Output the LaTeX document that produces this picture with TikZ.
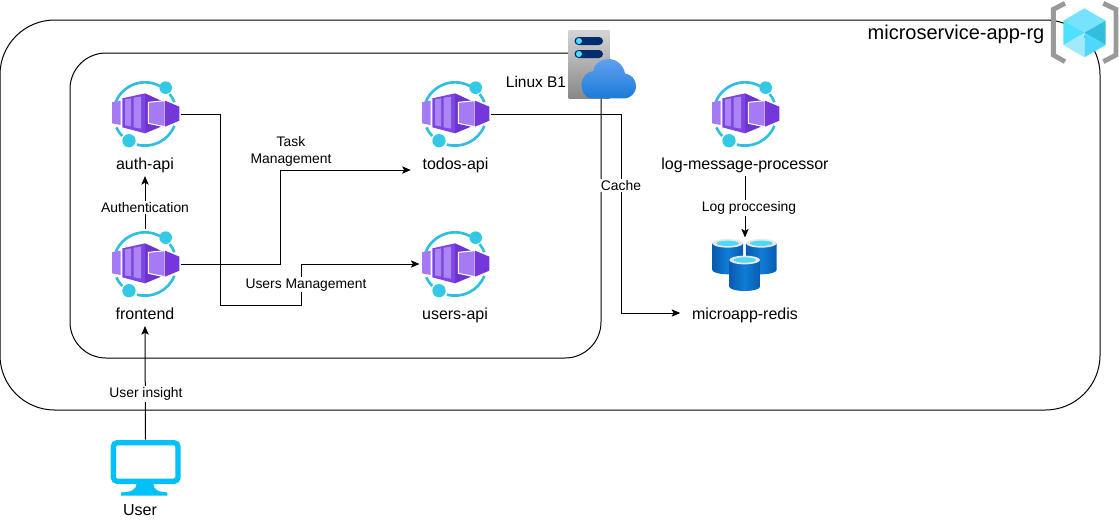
\documentclass[tikz,border=0pt]{standalone}
\usepackage{fontspec}
\setmainfont{Liberation Sans}
\usetikzlibrary{arrows.meta}

\tikzset{every picture/.style={line width=0.75pt}}
\tikzset{
  groupbox/.style={draw=black,line width=0.75pt},
  iconbox/.style={inner sep=0pt,minimum width=52.5pt,minimum height=52.5pt},
  namelabel/.style={inner xsep=8.5pt,inner ysep=2pt,text height=8.5pt,text depth=2.5pt,font=\fontsize{12}{14}\selectfont},
  edgelabel/.style={fill=white,inner sep=1pt,font=\fontsize{10.4}{12}\selectfont},
  link/.style={draw=black,line width=0.75pt,-{Stealth[length=6.5pt,width=5.5pt,inset=1.5pt]}},
  appicon/.pic={
    % ring
    \draw [line width=2pt,color={rgb, 255:red, 50; green, 190; blue, 225 }] (193:95) arc [start angle=193,end angle=298,radius=95];
    \draw [line width=2pt,color={rgb, 255:red, 50; green, 190; blue, 225 }] (321:95) arc [start angle=321,end angle=338,radius=95];
    \draw [line width=2pt,color={rgb, 255:red, 50; green, 190; blue, 225 }] (22:95) arc [start angle=22,end angle=105,radius=95];
    \draw [line width=2pt,color={rgb, 255:red, 50; green, 190; blue, 225 }] (136:95) arc [start angle=136,end angle=155,radius=95];
    \fill [color={rgb, 255:red, 50; green, 200; blue, 230 }] (62,-79) circle (19);
    \fill [color={rgb, 255:red, 50; green, 200; blue, 230 }] (-48,80) circle (20);
    % back boxes
    \fill [color={rgb, 255:red, 166; green, 122; blue, 244 }] (-99,-35) -- (-73,-40) -- (-73,33) -- (-99,28) -- cycle;
    \fill [color={rgb, 255:red, 110; green, 50; blue, 208 }] (0,-62) -- (48,-40) -- (10,-35) -- (10,28) -- (48,38) -- (0,58) -- cycle;
    \fill [color={rgb, 255:red, 125; green, 70; blue, 226 }] (-68,-47) -- (0,-62) -- (0,58) -- (-68,40) -- cycle;
    \fill [color={rgb, 255:red, 172; green, 132; blue, 245 }] (-60,-44) -- (-42,-47) -- (-42,37) -- (-60,34) -- cycle;
    \fill [color={rgb, 255:red, 172; green, 132; blue, 245 }] (-34,-49) -- (-12,-52) -- (-12,44) -- (-34,40) -- cycle;
    % front box
    \draw [line width=0.75pt,color=white,fill={rgb, 255:red, 166; green, 122; blue, 244 }] (10,-35) -- (60,-40) -- (60,38) -- (10,28) -- cycle;
    \fill [color={rgb, 255:red, 115; green, 55; blue, 220 }] (60,-40) -- (103,-22) -- (103,20) -- (60,38) -- cycle;
  },
  dbcylinder/.pic={
    \shade [left color={rgb, 255:red, 10; green, 90; blue, 175 },right color={rgb, 255:red, 10; green, 90; blue, 175 },middle color={rgb, 255:red, 15; green, 125; blue, 215 }] (-46,0) -- (-46,80) arc [start angle=180,end angle=360,x radius=46,y radius=-13] -- (46,0) -- cycle;
    \fill [color={rgb, 255:red, 232; green, 232; blue, 232 }] (0,0) ellipse (46 and 13);
    \fill [color={rgb, 255:red, 80; green, 216; blue, 248 }] (0,0) ellipse (34 and 8);
  }
}

\begin{document}
\begin{tikzpicture}[x=0.75pt,y=0.75pt,yscale=-1,xscale=1]
        \useasboundingbox (0,0) rectangle (1119,525);
        %Rounded Rect
        \draw [groupbox,rounded corners=41pt] (0,20) rectangle (1100,410);
        %Rounded Rect
        \draw [groupbox,rounded corners=27pt] (70,53) rectangle (601,358);

        % Icon Nodes
        \node (authapi) [iconbox] at (145,114) {};
        \node (todosapi) [iconbox] at (455,114) {};
        \node (frontend) [iconbox] at (145,264) {};
        \node (usersapi) [iconbox] at (455,264) {};
        \node (logproc) [iconbox] at (745,114) {};
        \node (redisicon) [iconbox,minimum height=39pt] at (745,264) {};
        \node (usericon) [iconbox,minimum height=42pt] at (145.5,468) {};
        \foreach \iconat in {authapi,todosapi,frontend,usersapi,logproc}
          \pic [scale=1/3,yscale=-1] at (\iconat) {appicon};

        % Text Node
        \node (authlabel) [namelabel] at (145,165.5) {auth-api};
        \node (todoslabel) [namelabel] at (455.5,165.5) {todos-api};
        \node (frontlabel) [namelabel] at (145,315.5) {frontend};
        \node (userslabel) [namelabel] at (455,315.5) {users-api};
        \node (loglabel) [namelabel] at (745,165.5) {log-message-processor};
        \node (redislabel) [namelabel] at (745,315.5) {microapp-redis};
        \node (userlabel) [namelabel] at (140,511.5) {User};
        \node (linuxlabel) [namelabel,inner xsep=0pt,font=\fontsize{11.6}{14}\selectfont] at (536,83.5) {Linux B1};
        \node (rglabel) [inner sep=0pt,font=\fontsize{15}{18}\selectfont] at (956,34) {microservice-app-rg};
        \node (tasklabel) [align=center,inner sep=0pt,font=\fontsize{10.4}{12.75}\selectfont] at (291,151.5) {Task\\Management};

        %Server
        \node (vmicon) [inner sep=0pt,minimum width=30pt,minimum height=50.5pt] at (589,64.5) {};
        \shade [top color={rgb, 255:red, 212; green, 212; blue, 212 },bottom color={rgb, 255:red, 136; green, 136; blue, 136 }] (vmicon.south west) rectangle (vmicon.north east);
        \foreach \pilly in {41,54}{
          \fill [color={rgb, 255:red, 0; green, 45; blue, 110 },rounded corners=3pt] (574.5,\pilly-4) rectangle (603,\pilly+4);
          \fill [color={rgb, 255:red, 80; green, 220; blue, 250 }] (579,\pilly) circle (3);
        }
        %Cloud
        \begin{scope}[shift={(500,20)},scale=1/3]
          \shade [top color={rgb, 255:red, 96; green, 160; blue, 240 },bottom color={rgb, 255:red, 27; green, 122; blue, 216 }] (275,235) .. controls (255,235) and (245,215) .. (245,195) .. controls (245,170) and (262,155) .. (280,153) .. controls (283,130) and (305,117) .. (325,117) .. controls (350,117) and (370,135) .. (375,160) .. controls (395,163) and (408,180) .. (408,198) .. controls (408,220) and (390,235) .. (375,235) -- cycle;
        \end{scope}

        %Resource group icon
        \begin{scope}[shift={(1030,0)},scale=1/3]
          \draw [line width=3.6pt,color={rgb, 255:red, 153; green, 153; blue, 153 }] (105,10) -- (70,28) -- (70,165) -- (105,185);
          \draw [line width=3.6pt,color={rgb, 255:red, 153; green, 153; blue, 153 }] (220,10) -- (258,28) -- (258,165) -- (220,185);
          \fill [color={rgb, 255:red, 118; green, 226; blue, 251 }] (163,25) -- (227,62) -- (163,98) -- (100,62) -- cycle;
          \fill [color={rgb, 255:red, 50; green, 190; blue, 221 }] (227,62) -- (227,135) -- (163,98) -- cycle;
          \fill [color={rgb, 255:red, 80; green, 216; blue, 250 }] (227,135) -- (163,172) -- (163,98) -- cycle;
          \fill [color={rgb, 255:red, 160; green, 234; blue, 252 }] (163,172) -- (100,135) -- (163,98) -- cycle;
          \fill [color={rgb, 255:red, 80; green, 224; blue, 255 }] (100,135) -- (100,62) -- (163,98) -- cycle;
        \end{scope}

        %Redis cylinders
        \pic [scale=1/3,yscale=-1] at (727.7,243.3) {dbcylinder};
        \pic [scale=1/3,yscale=-1] at (761.3,243.3) {dbcylinder};
        \pic [scale=1/3,yscale=-1] at (744.7,260) {dbcylinder};

        %Monitor
        \begin{scope}[shift={(90,430)},scale=1/3]
          \fill [color={rgb, 255:red, 0; green, 192; blue, 248 }] (140,160) .. controls (140,178) and (125,187) .. (93,187) -- (93,197) -- (232,197) -- (232,187) .. controls (205,187) and (190,178) .. (190,160) -- cycle;
          \draw [line width=4pt,color={rgb, 255:red, 0; green, 192; blue, 248 },rounded corners=3pt,fill=white] (70,38) rectangle (264,154);
        \end{scope}

        % Connectors
        \draw [link] (authapi.east) -- (220,114) -- (220,305) -- (301,305) -- node [edgelabel,xshift=3.75pt,pos=.49] {Users Management} (301,264) -- (usersapi.west);
        \draw [link] (frontend.east) -- (280,264) -- (280,170) -- (todoslabel.west |- 0,170);
        \draw [link] (frontend.north) -- node [edgelabel,pos=.40] {Authentication} (authlabel.south);
        \draw [link] (usericon.north) -- node [edgelabel,xshift=.5pt,pos=.40] {User insight} (frontlabel.south);
        \draw [link] (todosapi.east) -- (621,114) -- node [edgelabel,pos=.36] {Cache} (621,313) -- (redislabel.west |- 0,313);
        \draw [link] (loglabel.south) -- node [edgelabel,xshift=3pt,pos=.52] {Log proccesing} (redisicon.north);
\end{tikzpicture}
\end{document}
